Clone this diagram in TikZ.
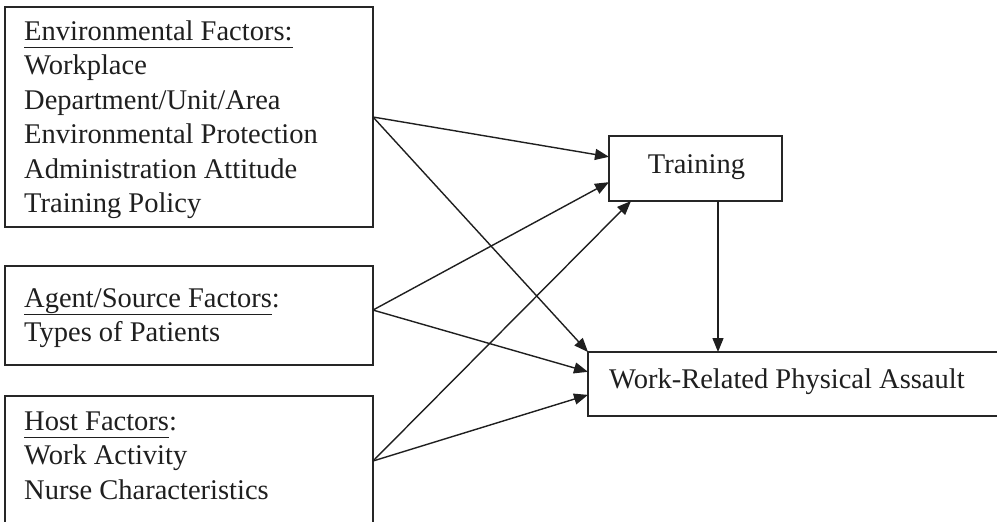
\documentclass[tikz,border=0pt]{standalone}
\usepackage{fontspec}
\setmainfont{Liberation Serif}
\usetikzlibrary{arrows.meta,calc}

% underline set a fixed distance below the baseline
\newcommand\undl[1]{\setbox0\hbox{#1}\rlap{\rule[-7.5pt]{\wd0}{1.2pt}}\box0}

\begin{document}
\begin{tikzpicture}[x=1pt,y=-1pt,
  ink/.style={black!88},
  boxframe/.style={draw=black!85, line width=1.5pt, inner sep=0pt, outer sep=0pt, anchor=north west},
  factortext/.style={anchor=north west, inner sep=0pt, align=left, text=black!88,
    font=\fontsize{28.5}{34.5}\selectfont},
  labeltext/.style={inner sep=0pt, text=black!88, font=\fontsize{28.5}{34.5}\selectfont},
  arr/.style={draw=black!88, line width=1.4pt, -{Triangle[length=14pt,width=11pt]}}]

\clip (0,0) rectangle (997,522);
\fill[white] (0,0) rectangle (997,522);

% factor boxes on the left
\node[boxframe, minimum width=368pt, minimum height=220pt] (env) at (5,7) {};
\node[boxframe, minimum width=368pt, minimum height=99pt] (agent) at (5,266) {};
\node[boxframe, minimum width=368pt, minimum height=130pt] (host) at (5,396) {};

\node[factortext] (envtxt) at (24,20) {\rule{0pt}{20pt}\undl{Environmental Factors:}\\
  Workplace\\ Department/Unit/Area\\ Environmental Protection\\
  Administration Attitude\\ Training Policy};
\node[factortext] (agenttxt) at (24,287) {\rule{0pt}{20pt}\undl{Agent/Source Factors}:\\
  Types of Patients};
\node[factortext] (hosttxt) at (24,410) {\rule{0pt}{20pt}\undl{Host Factors}:\\
  Work Activity\\ Nurse Characteristics};

% mediator and outcome
\node[boxframe, minimum width=173pt, minimum height=65pt] (train) at (609,136) {};
\node[labeltext, anchor=base] (traintxt) at ($(train.north)+(1,37)$) {Training};

\node[boxframe, minimum width=430pt, minimum height=64pt] (wrpa) at (588,352) {};
\node[labeltext, anchor=base west] (wrpatxt) at ($(wrpa.north west)+(21,36)$) {Work-Related Physical Assault};

% attachment points
\coordinate (agentout) at ($(agent.north east)!0.445!(agent.south east)$);
\coordinate (tin1) at ($(train.north west)!0.32!(train.south west)$);
\coordinate (tin2) at ($(train.north west)!0.71!(train.south west)$);
\coordinate (tin3) at ($(train.south west)+(22,0)$);
\coordinate (win2) at ($(wrpa.north west)!0.31!(wrpa.south west)$);
\coordinate (win3) at ($(wrpa.north west)!0.67!(wrpa.south west)$);
\coordinate (tdrop) at ($(train.south west)+(109,0)$);

% paths
\draw[arr] (env.east) -- (tin1);
\draw[arr] (env.east) -- (wrpa.north west);
\draw[arr] (agentout) -- (tin2);
\draw[arr] (agentout) -- (win2);
\draw[arr] (host.east) -- (tin3);
\draw[arr] (host.east) -- (win3);
\draw[arr] (tdrop) -- (tdrop |- wrpa.north);
\end{tikzpicture}
\end{document}
